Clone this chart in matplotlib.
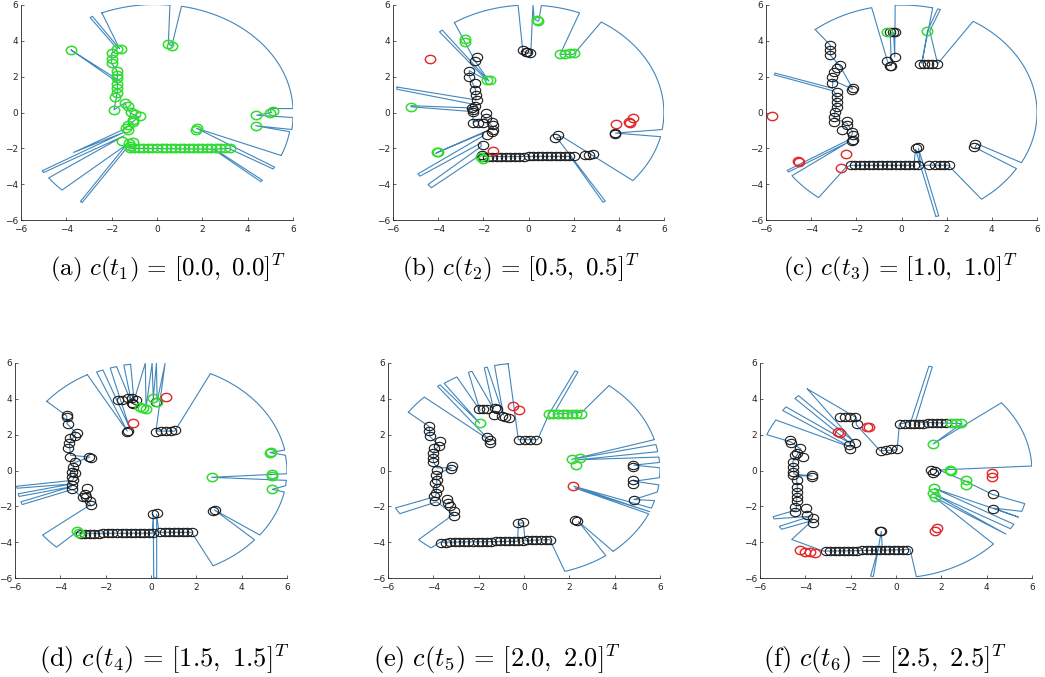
import numpy as np
import matplotlib
matplotlib.use("Agg")
import matplotlib.pyplot as plt
from matplotlib.path import Path
from matplotlib.transforms import Affine2D

plt.rcParams["mathtext.fontset"] = "cm"

# ---------------- data ----------------
# visibility outline of each panel, vertices in clockwise order
a_outline = [(-2.43, 5.56), (0.57, 5.99), (0.50, 3.85), (0.65, 3.70), (1.08, 5.93),
             (6.00, 0.22), (4.97, 0.22), (5.05, 0.00), (4.40, -0.15), (6.00, -0.28),
             (5.95, -0.95), (4.35, -0.74), (5.85, -1.07), (5.48, -2.40), (1.74, -0.88),
             (5.19, -3.05), (5.12, -3.15), (3.15, -2.00), (2.55, -2.05), (4.65, -3.78),
             (4.58, -3.86), (2.48, -2.05), (-1.15, -2.00), (-1.25, -1.85), (-3.30, -5.02),
             (-3.38, -4.97), (-1.35, -1.80), (-4.19, -4.33), (-4.78, -3.65), (-1.45, -1.30),
             (-5.00, -3.35), (-5.06, -3.25), (-1.45, -1.10), (-3.68, -2.23), (-1.40, -0.90),
             (-1.10, -0.55), (-0.80, -0.25), (-1.15, -0.05), (-1.35, 0.30), (-1.40, 0.55),
             (-1.90, 0.15), (-1.80, 0.80), (-1.75, 1.20), (-1.75, 1.70), (-3.80, 3.50),
             (-3.75, 3.45), (-1.75, 1.85), (-1.75, 2.30), (-2.00, 2.75), (-2.00, 3.30),
             (-1.75, 3.55), (-2.95, 5.30), (-2.85, 5.37), (-1.65, 3.55)]
a_black = []
a_green = [(-1.2, -2.0), (-1.0, -2.0), (-0.8, -2.0), (-0.6, -2.0), (-0.4, -2.0), (-0.2, -2.0),
           (0.0, -2.0), (0.2, -2.0), (0.4, -2.0), (0.6, -2.0), (0.8, -2.0), (1.0, -2.0),
           (1.2, -2.0), (1.4, -2.0), (1.6, -2.0), (1.8, -2.0), (2.0, -2.0), (2.2, -2.0),
           (2.4, -2.0), (2.6, -2.0), (2.8, -2.0), (3.0, -2.0), (3.2, -2.0),
           (0.50, 3.85), (0.65, 3.70), (5.10, 0.10), (5.00, -0.05), (4.38, -0.15),
           (4.35, -0.76), (1.78, -0.88), (1.72, -0.95), (-3.80, 3.50), (-1.75, 3.55),
           (-1.60, 3.55), (-2.00, 3.30), (-2.00, 3.00), (-2.00, 2.75), (-1.75, 2.30),
           (-1.75, 2.10), (-1.75, 1.90), (-1.75, 1.60), (-1.75, 1.35), (-1.75, 1.10),
           (-1.85, 0.85), (-1.90, 0.15), (-1.40, 0.55), (-1.30, 0.35), (-1.15, 0.05),
           (-0.95, -0.10), (-0.75, -0.20), (-1.05, -0.40), (-1.05, -0.55), (-1.30, -0.70),
           (-1.35, -0.85), (-1.30, -0.95), (-1.55, -1.60), (-1.25, -1.70), (-1.05, -1.65),
           (-1.20, -1.85)]
a_red = []

b_outline = [(-3.28, 5.02), (-0.46, 5.98), (-0.25, 3.40), (0.10, 3.30), (0.20, 5.99),
             (0.25, 5.20), (0.45, 5.10), (0.57, 5.97), (2.26, 5.56), (1.40, 3.25),
             (2.00, 3.25), (3.22, 5.05), (5.92, -0.95), (3.85, -1.15), (5.85, -1.35),
             (4.62, -3.80), (1.50, -1.35), (1.25, -1.40), (3.40, -4.95), (3.30, -5.01),
             (1.85, -2.45), (-2.00, -2.45), (-2.05, -2.30), (-4.30, -4.20), (-4.45, -4.02),
             (-2.10, -1.90), (-2.10, -1.70), (-4.80, -3.55), (-4.90, -3.43), (-2.00, -1.30),
             (-2.00, -1.15), (-4.06, -2.23), (-4.10, -2.28), (-1.90, -1.05), (-1.56, -0.85),
             (-1.88, -0.33), (-2.45, -0.55), (-2.47, 0.05), (-5.21, 0.32), (-5.20, 0.38),
             (-2.45, 0.25), (-2.40, 0.45), (-5.83, 1.30), (-5.82, 1.42), (-2.32, 0.70),
             (-2.35, 1.30), (-2.62, 2.00), (-2.62, 2.33), (-1.85, 1.80), (-3.94, 4.50),
             (-3.82, 4.60), (-1.75, 1.75), (-2.37, 2.88)]
b_black = [(-2.0, -2.50), (-1.8, -2.50), (-1.6, -2.49), (-1.4, -2.49), (-1.2, -2.48),
           (-1.0, -2.48), (-0.8, -2.47), (-0.6, -2.47), (-0.4, -2.46), (-0.2, -2.46),
           (0.0, -2.45), (0.2, -2.45), (0.4, -2.44), (0.6, -2.44), (0.8, -2.43),
           (1.0, -2.43), (1.2, -2.42), (1.4, -2.42), (1.6, -2.41), (1.8, -2.41),
           (2.0, -2.40), (2.49, -2.38), (2.68, -2.38), (2.85, -2.34),
           (-0.24, 3.48), (-0.09, 3.39), (0.06, 3.30), (-0.05, 3.35), (1.16, -1.40),
           (1.31, -1.27), (3.81, -1.13), (3.83, -1.20), (-2.29, 3.10), (-2.37, 2.88),
           (-2.62, 2.33), (-2.62, 2.00), (-2.37, 1.62), (-2.37, 1.28), (-2.32, 0.97),
           (-2.29, 0.69), (-2.37, 0.35), (-2.51, 0.26), (-2.47, 0.04), (-2.44, 0.15),
           (-1.88, -0.05), (-1.88, -0.33), (-1.63, -0.52), (-1.56, -0.70), (-1.56, -0.98),
           (-1.63, -1.08), (-1.85, -1.26), (-2.00, -1.82), (-2.07, -2.38), (-2.44, -0.57),
           (-2.22, -0.57), (-2.00, -0.57)]
b_green = [(-2.81, 4.13), (-2.81, 3.94), (-1.71, 1.81), (-1.85, 1.81), (-5.21, 0.32),
           (-4.06, -2.23), (-3.99, -2.20), (-2.10, -2.47), (-2.03, -2.62), (0.43, 5.12),
           (0.36, 5.15), (1.38, 3.26), (1.60, 3.26), (1.82, 3.30), (2.00, 3.33)]
b_red = [(-4.35, 3.01), (-1.56, -2.14), (3.88, -0.65), (4.47, -0.51), (4.51, -0.60),
         (4.62, -0.33)]

c_outline = [(-3.82, 4.63), (-1.32, 5.85), (-0.62, 2.85), (-0.45, 2.60), (-0.50, 4.45),
             (-0.35, 4.45), (-0.30, 3.10), (-0.28, 5.99), (1.38, 5.84), (0.90, 2.75),
             (1.15, 4.55), (1.60, 5.78), (1.72, 5.75), (1.25, 4.55), (1.60, 2.72),
             (3.17, 5.09), (5.31, -2.80), (3.35, -1.75), (3.25, -1.95), (5.09, -3.13),
             (3.54, -4.84), (2.07, -2.94), (0.85, -2.95), (0.75, -2.00), (1.65, -5.77),
             (1.52, -5.80), (0.62, -2.05), (0.55, -2.95), (-2.25, -2.95), (-2.45, -3.05),
             (-3.67, -4.75), (-4.85, -3.53), (-2.35, -1.65), (-5.00, -3.32), (-5.06, -3.23),
             (-2.30, -1.50), (-2.15, -1.10), (-2.42, -0.60), (-3.00, -0.30), (-2.90, 0.30),
             (-2.90, 1.00), (-3.00, 1.20), (-5.63, 2.10), (-5.60, 2.20), (-3.05, 1.35),
             (-3.05, 1.80), (-2.15, 1.30), (-2.70, 2.55), (-3.15, 3.20), (-3.15, 3.75)]
c_black = [(-2.25, -2.95), (-2.05, -2.95), (-1.85, -2.95), (-1.65, -2.95), (-1.45, -2.95),
           (-1.25, -2.95), (-1.05, -2.95), (-0.85, -2.95), (-0.65, -2.95), (-0.45, -2.95),
           (-0.25, -2.95), (-0.05, -2.95), (0.15, -2.95), (0.35, -2.95), (0.55, -2.95),
           (0.75, -2.95), (1.20, -2.95), (1.50, -2.95), (1.70, -2.95), (1.90, -2.95),
           (2.10, -2.95), (0.65, -2.00), (0.75, -1.93), (3.20, -1.92), (3.25, -1.77),
           (-0.51, 4.50), (-0.36, 4.50), (-0.29, 4.50), (-0.65, 2.88), (-0.51, 2.62),
           (-0.45, 2.60), (-0.29, 3.10), (0.82, 2.70), (1.00, 2.70), (1.18, 2.70),
           (1.36, 2.70), (1.55, 2.70), (-2.20, -1.08), (-2.13, -1.27), (-2.13, -1.54),
           (-2.20, -1.60), (-2.42, -0.71), (-2.42, -0.47), (-2.64, -0.95), (-3.01, -0.52),
           (-3.01, -0.24), (-2.94, 0.04), (-2.87, 0.32), (-2.87, 0.60), (-2.87, 0.87),
           (-2.87, 1.15), (-3.09, 1.62), (-3.09, 1.99), (-3.01, 2.27), (-2.87, 2.46),
           (-2.72, 2.64), (-3.16, 3.20), (-3.16, 3.48), (-3.16, 3.76), (-2.13, 1.34),
           (-2.20, 1.25)]
c_green = [(-0.66, 4.50), (1.11, 4.56)]
c_red = [(-5.74, -0.20), (-4.56, -2.75), (-4.59, -2.70), (-2.47, -2.33), (-2.69, -3.07)]

d_outline = [(-4.60, 3.86), (-2.81, 5.35), (-1.05, 2.20), (-2.40, 5.50), (-2.12, 5.61),
             (-0.95, 2.40), (-1.80, 5.72), (-1.52, 5.80), (-0.85, 3.75), (-1.20, 5.88),
             (-0.90, 5.93), (-0.75, 3.90), (-0.25, 5.99), (-0.22, 3.50), (0.05, 5.99),
             (0.10, 4.00), (0.24, 5.99), (0.27, 3.85), (0.62, 5.97), (0.22, 2.20),
             (1.05, 2.20), (2.62, 5.41), (5.90, 1.14), (5.25, 1.00), (5.93, 0.85),
             (6.00, -0.18), (5.35, -0.22), (2.67, -0.38), (5.97, -0.55), (5.94, -0.85),
             (5.35, -1.05), (5.88, -1.20), (4.80, -3.60), (2.80, -2.20), (4.57, -3.87),
             (2.74, -5.32), (1.79, -3.45), (0.35, -3.45), (0.25, -2.45), (0.25, -5.99),
             (0.12, -5.99), (0.10, -2.45), (0.05, -3.50), (-3.10, -3.50), (-3.30, -3.45),
             (-4.17, -4.28), (-4.78, -3.60), (-2.66, -1.90), (-3.45, -1.05), (-5.68, -1.90),
             (-5.74, -1.75), (-3.50, -0.90), (-5.82, -1.45), (-5.86, -1.30), (-3.50, -0.75),
             (-5.91, -0.99), (-5.93, -0.88), (-3.45, -0.55), (-3.35, -0.15), (-3.45, 0.40),
             (-2.70, 0.75), (-3.55, 0.85), (-3.60, 1.50), (-3.30, 2.10), (-3.70, 2.60),
             (-3.72, 3.05)]
d_black = [(-3.1, -3.52), (-2.9, -3.52), (-2.7, -3.52), (-2.5, -3.52), (-2.3, -3.52),
           (-2.1, -3.51), (-1.9, -3.51), (-1.7, -3.51), (-1.5, -3.50), (-1.3, -3.50),
           (-1.1, -3.50), (-0.9, -3.50), (-0.7, -3.49), (-0.5, -3.49), (-0.3, -3.48),
           (-0.1, -3.48), (0.1, -3.47), (0.4, -3.45), (0.6, -3.45), (0.8, -3.45),
           (1.0, -3.45), (1.2, -3.44), (1.4, -3.44), (1.6, -3.43), (1.8, -3.43),
           (-1.45, 3.96), (-1.26, 3.96), (-1.00, 4.02), (-0.82, 4.02), (-0.67, 3.96),
           (-0.86, 3.74), (-0.79, 3.70), (0.24, 3.83), (-1.08, 2.15), (-1.01, 2.20),
           (0.24, 2.15), (0.46, 2.20), (0.68, 2.20), (0.90, 2.20), (1.05, 2.25),
           (-3.72, 3.09), (-3.72, 2.96), (-3.68, 2.57), (-3.28, 2.10), (-3.35, 1.92),
           (-3.58, 1.79), (-3.60, 1.51), (-3.65, 1.23), (-3.58, 0.77), (-3.35, 0.49),
           (-3.43, 0.21), (-3.50, -0.07), (-3.35, -0.16), (-3.50, -0.34), (-3.43, -0.53),
           (-3.50, -0.81), (-3.50, -1.05), (-2.81, -0.99), (-2.92, -1.31), (-2.87, -1.50),
           (-2.99, -1.46), (-2.69, -1.73), (-2.66, -1.92), (-2.72, 0.77), (-2.66, 0.68),
           (2.81, -2.20), (2.75, -2.25), (0.10, -2.43), (0.28, -2.38)]
d_green = [(-3.18, -3.47), (-3.28, -3.40), (-0.49, 3.55), (-0.20, 3.46), (-0.35, 3.50),
           (0.10, 4.02), (0.27, 3.83), (5.26, 0.99), (5.30, 1.03), (5.35, -0.20),
           (5.35, -0.31), (5.35, -1.05), (2.67, -0.38)]
d_red = [(-0.79, 2.63), (0.68, 4.08)]

e_outline = [(-5.10, 3.25), (-4.40, 4.10), (-1.55, 1.72), (-3.81, 4.70), (-3.70, 4.78),
             (-1.96, 2.65), (-3.52, 4.86), (-2.96, 5.22), (-1.94, 3.35), (-2.45, 5.48),
             (-2.30, 5.54), (-1.35, 3.45), (-1.75, 5.73), (-1.62, 5.77), (-0.91, 3.10),
             (-1.30, 5.86), (-0.70, 5.96), (-0.25, 1.72), (0.60, 1.72), (1.10, 3.15),
             (2.25, 5.56), (2.38, 5.50), (1.30, 3.15), (2.55, 3.25), (3.75, 4.74),
             (5.75, 1.72), (2.10, 0.62), (5.82, 1.45), (5.90, 1.05), (2.40, 0.60),
             (5.95, 0.75), (5.98, 0.45), (4.85, 0.30), (6.00, 0.15), (5.98, -0.40),
             (4.85, -0.60), (5.95, -0.80), (5.88, -1.20), (4.85, -1.62), (5.76, -1.68),
             (5.62, -2.10), (2.20, -0.88), (5.55, -2.30), (2.25, -0.98), (5.50, -2.42),
             (3.93, -4.51), (2.40, -2.85), (3.61, -4.75), (1.80, -5.63), (1.14, -3.86),
             (0.05, -3.90), (-0.03, -2.92), (-0.25, -2.95), (-0.28, -3.95), (-3.70, -4.00),
             (-4.10, -4.32), (-4.65, -3.86), (-3.11, -2.45), (-3.85, -1.75), (-5.48, -2.41),
             (-5.67, -2.09), (-3.90, -1.45), (-3.85, -1.00), (-3.85, -0.20), (-3.18, 0.15),
             (-3.85, 0.15), (-4.00, 0.50), (-4.00, 1.00), (-3.75, 1.40), (-4.15, 1.90),
             (-4.18, 2.45)]
e_black = [(-3.65, -4.02), (-3.45, -4.02), (-3.25, -4.01), (-3.05, -4.01), (-2.85, -4.00),
           (-2.65, -4.00), (-2.45, -3.99), (-2.25, -3.99), (-2.05, -3.98), (-1.85, -3.98),
           (-1.65, -3.97), (-1.45, -3.97), (-1.25, -3.96), (-1.05, -3.96), (-0.85, -3.95),
           (-0.65, -3.95), (-0.45, -3.94), (-0.25, -3.94), (-0.05, -3.93), (0.15, -3.89),
           (0.35, -3.89), (0.55, -3.88), (0.75, -3.88), (0.95, -3.87), (1.15, -3.87),
           (-2.00, 3.44), (-1.82, 3.44), (-1.64, 3.44), (-1.28, 3.49), (-1.20, 3.44),
           (-1.32, 3.07), (-0.98, 3.03), (-0.84, 3.00), (-0.65, 2.93), (-1.64, 1.87),
           (-1.52, 1.72), (-1.50, 1.53), (-0.21, 1.72), (0.04, 1.68), (0.26, 1.68),
           (0.51, 1.72), (-4.18, 2.46), (-4.18, 2.19), (-4.13, 1.91), (-3.72, 1.63),
           (-3.77, 1.35), (-3.99, 1.26), (-4.02, 0.98), (-4.02, 0.70), (-4.02, 0.46),
           (-3.84, 0.05), (-3.87, -0.23), (-3.84, -0.51), (-3.91, -0.70), (-3.81, -0.98),
           (-3.87, -1.26), (-3.99, -1.44), (-3.91, -1.72), (-3.18, 0.23), (-3.23, 0.08),
           (-3.40, -1.59), (-3.37, -1.81), (-3.26, -2.00), (-3.11, -2.28), (-3.11, -2.52),
           (-0.25, -2.93), (-0.03, -2.89), (2.24, -2.74), (2.32, -2.84), (4.81, 0.33),
           (4.81, 0.20), (4.81, -0.51), (4.81, -0.74), (4.84, -1.63)]
e_green = [(-1.96, 2.65), (1.10, 3.15), (1.30, 3.15), (1.50, 3.15), (1.70, 3.15),
           (1.90, 3.15), (2.10, 3.15), (2.30, 3.15), (2.50, 3.17), (2.10, 0.64),
           (2.46, 0.70), (2.29, 0.33)]
e_red = [(-0.47, 3.58), (-0.21, 3.40), (2.14, -0.88)]

f_outline = [(-3.91, 4.55), (-1.75, 2.95), (-1.75, 2.55), (-0.70, 1.10), (0.05, 1.15),
             (0.15, 2.60), (0.65, 2.70), (1.45, 5.82), (1.60, 5.78), (0.85, 2.70),
             (2.90, 2.62), (1.64, 1.48), (4.65, 3.78), (5.99, 0.25), (1.90, 0.03),
             (3.10, -0.62), (4.25, -1.33), (5.68, -1.85), (5.55, -2.28), (4.30, -2.10),
             (5.40, -2.60), (1.70, -1.00), (5.20, -3.00), (5.05, -3.25), (1.65, -1.30),
             (4.85, -3.55), (1.70, -1.50), (4.30, -4.10), (0.90, -5.93), (0.62, -4.40),
             (-0.60, -4.45), (-0.65, -3.40), (-1.00, -5.92), (-1.12, -5.89), (-0.80, -4.45),
             (-3.20, -4.50), (-4.60, -3.85), (-3.70, -2.80), (-5.05, -3.28), (-5.15, -3.12),
             (-3.75, -2.55), (-5.38, -2.70), (-5.42, -2.58), (-4.40, -2.20), (-4.35, -0.90),
             (-4.40, -0.30), (-3.70, -0.30), (-4.50, -0.20), (-4.55, 0.50), (-4.20, 1.20),
             (-4.65, 1.60), (-5.70, 2.00), (-5.30, 2.82), (-2.00, 1.30), (-5.00, 3.35),
             (-4.85, 3.55), (-2.00, 1.50), (-4.46, 4.02), (-4.30, 4.18), (-1.85, 1.60)]
f_black = [(-3.1, -4.50), (-2.9, -4.50), (-2.7, -4.49), (-2.5, -4.49), (-2.3, -4.48),
           (-2.1, -4.48), (-1.9, -4.47), (-1.7, -4.47), (-1.5, -4.46), (-1.3, -4.46),
           (-1.1, -4.45), (-0.9, -4.45), (-0.7, -4.44), (-0.5, -4.44), (-0.3, -4.43),
           (-0.1, -4.43), (0.1, -4.42), (0.3, -4.42), (0.5, -4.41),
           (-4.67, 1.70), (-4.65, 1.51), (-4.24, 1.23), (-4.38, 0.95), (-4.09, 0.77),
           (-4.46, 0.86), (-4.56, 0.49), (-4.56, 0.21), (-4.56, -0.06), (-4.53, -0.25),
           (-4.38, -0.53), (-4.35, -0.90), (-4.35, -1.18), (-4.35, -1.46), (-4.35, -1.73),
           (-4.46, -2.01), (-4.46, -2.29), (-3.97, -2.11), (-3.94, -2.48), (-3.68, -2.66),
           (-3.68, -2.94), (-3.72, -0.25), (-3.72, -0.34), (-2.48, 2.96), (-2.25, 2.96),
           (-2.03, 2.96), (-1.81, 2.99), (-1.74, 2.58), (-2.06, 1.42), (-2.01, 1.18),
           (-1.81, 1.51), (-0.64, 1.10), (-0.42, 1.14), (-0.20, 1.18), (0.05, 1.18),
           (0.17, 2.60), (0.40, 2.61), (0.60, 2.61), (0.80, 2.62), (1.00, 2.62),
           (1.20, 2.62), (1.40, 2.63), (1.60, 2.63), (1.80, 2.63), (2.00, 2.63),
           (2.20, 2.63), (1.56, 0.03), (1.64, -0.12), (1.70, -0.05), (4.28, -1.33),
           (4.28, -2.16), (-0.64, -3.40), (-0.70, -3.37)]
f_green = [(2.44, 2.63), (2.66, 2.63), (2.88, 2.63), (1.64, 1.48), (2.37, 0.03),
           (2.44, 0.00), (3.08, -0.53), (3.11, -0.81), (1.67, -0.99), (1.64, -1.27),
           (1.71, -1.46)]
f_red = [(-2.48, 2.10), (-2.55, 2.15), (-1.30, 2.41), (-1.18, 2.41), (4.25, -0.16),
         (4.25, -0.38), (1.79, -3.22), (1.71, -3.35), (-4.24, -4.46), (-4.02, -4.57),
         (-3.80, -4.57), (-3.58, -4.61)]

captions = [r"$\mathrm{(a)}\ c(t_1)\,=\,[0.0,\ 0.0]^T$",
            r"$\mathrm{(b)}\ c(t_2)\,=\,[0.5,\ 0.5]^T$",
            r"$\mathrm{(c)}\ c(t_3)\,=\,[1.0,\ 1.0]^T$",
            r"$\mathrm{(d)}\ c(t_4)\,=\,[1.5,\ 1.5]^T$",
            r"$\mathrm{(e)}\ c(t_5)\,=\,[2.0,\ 2.0]^T$",
            r"$\mathrm{(f)}\ c(t_6)\,=\,[2.5,\ 2.5]^T$"]

panels = [(a_outline, a_black, a_green, a_red),
          (b_outline, b_black, b_green, b_red),
          (c_outline, c_black, c_green, c_red),
          (d_outline, d_black, d_green, d_red),
          (e_outline, e_black, e_green, e_red),
          (f_outline, f_black, f_green, f_red)]

# ---------------- layout ----------------
W, H = 1045, 677
# axes boxes in pixels: left, top, right, bottom
boxes = [(21, 5, 293, 220), (393, 5, 664, 220), (766, 5, 1037, 220),
         (15, 363, 287, 578), (388, 363, 660, 578), (760, 363, 1032, 578)]
cap_pos = [(168, 268), (521, 268), (900, 268), (164, 659), (497, 659), (885, 659)]
cap_size = [18, 18, 18, 19, 19, 19]

MAX_R = 6.0


def outline_path(pts):
    # straight edges, except between two max-range points: follow the range circle
    xs, ys = [], []
    n = len(pts)
    for i in range(n):
        x0, y0 = pts[i]
        x1, y1 = pts[(i + 1) % n]
        r0, r1 = np.hypot(x0, y0), np.hypot(x1, y1)
        if r0 > MAX_R - 0.3 and r1 > MAX_R - 0.3:
            a0, a1 = np.arctan2(y0, x0), np.arctan2(y1, x1)
            d = (a1 - a0 + np.pi) % (2 * np.pi) - np.pi
            t = np.linspace(0, 1, max(2, int(abs(d) / 0.01)))
            rr = r0 + (r1 - r0) * t
            xs.extend(rr * np.cos(a0 + d * t))
            ys.extend(rr * np.sin(a0 + d * t))
        else:
            xs.append(x0)
            ys.append(y0)
    xs.append(pts[0][0])
    ys.append(pts[0][1])
    return xs, ys


# slightly wide ellipse, like the circles in the picture
ell = Path(Affine2D().scale(1.25, 1.0).transform(Path.unit_circle().vertices),
           Path.unit_circle().codes)

fig = plt.figure(figsize=(W / 100, H / 100), dpi=100)

for k, (outline, black, green, red) in enumerate(panels):
    l, t, r, b = boxes[k]
    ax = fig.add_axes([l / W, 1 - b / H, (r - l) / W, (b - t) / H])
    ox, oy = outline_path(outline)
    ax.plot(ox, oy, color="#4286bb", lw=0.8)
    for pts, col, mew in ((black, "#1a1a1a", 0.8), (green, "#2fdc2f", 1.1), (red, "#e02828", 1.0)):
        if pts:
            px, py = zip(*pts)
            ax.plot(px, py, ls="none", marker=ell, ms=7.5, mfc="none", mec=col, mew=mew)
    ax.set_xlim(-6, 6)
    ax.set_ylim(-6, 6)
    ax.set_xticks(range(-6, 7, 2))
    ax.set_yticks(range(-6, 7, 2))
    ax.spines["top"].set_visible(False)
    ax.spines["right"].set_visible(False)
    for s in ("left", "bottom"):
        ax.spines[s].set_linewidth(0.6)
        ax.spines[s].set_color("#262626")
    ax.tick_params(direction="in", length=2.5, width=0.5, labelsize=6.5,
                   colors="#262626")
    ax.tick_params(axis="x", pad=3.5)
    ax.tick_params(axis="y", pad=2)
    cx, cy = cap_pos[k]
    fig.text(cx / W, 1 - cy / H, captions[k], ha="center", va="center",
             fontsize=cap_size[k])

fig.savefig("out.png", dpi=100)
